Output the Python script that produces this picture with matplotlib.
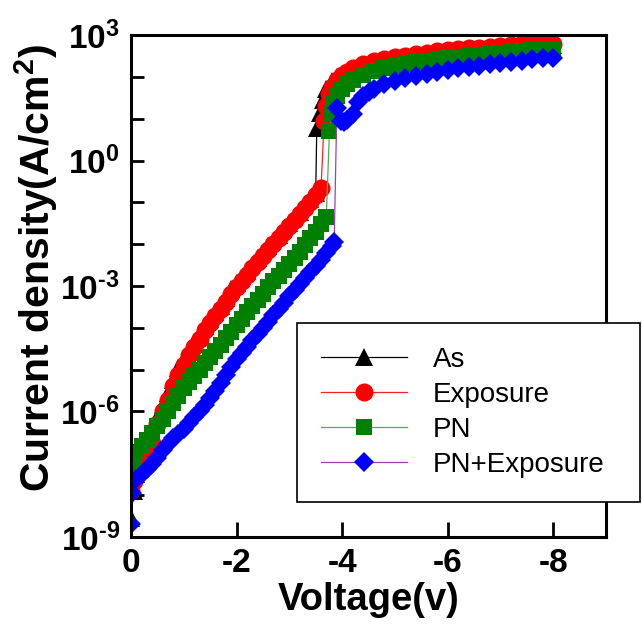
import numpy as np
import matplotlib
matplotlib.use("Agg")
import matplotlib.pyplot as plt
from matplotlib.ticker import FixedLocator, FixedFormatter

plt.rcParams['font.family'] = ['Liberation Sans', 'DejaVu Sans']
plt.rcParams['mathtext.fontset'] = 'custom'
plt.rcParams['mathtext.rm'] = 'Liberation Sans'
plt.rcParams['mathtext.bf'] = 'Liberation Sans:bold'

# As (log10 of current density)
as_v = [0, -0.05, -0.1, -0.2, -0.3, -0.4, -0.5, -0.6, -0.7, -0.8, -0.9, -1.0, -1.1, -1.2, -1.3,
        -1.4, -1.5, -1.6, -1.7, -1.8, -1.9, -2.0, -2.2, -2.4, -2.6, -2.8, -3.0, -3.2, -3.4, -3.5,
        -3.52, -3.58, -3.63, -3.7, -3.8, -3.9, -4.0, -4.2, -4.4, -4.6, -4.8, -5.0, -5.2, -5.4,
        -5.6, -5.8, -6.0, -6.2, -6.4, -6.6, -6.8, -7.0, -7.2, -7.4, -7.6, -7.8, -8.0]
as_logj = [-8.55, -7.9, -7.5, -7.15, -6.9, -6.55, -6.15, -5.85, -5.55, -5.25, -4.97, -4.75, -4.55,
           -4.35, -4.15, -3.95, -3.78, -3.62, -3.47, -3.28, -3.08, -2.93, -2.63, -2.33, -2.05,
           -1.78, -1.5, -1.22, -0.93, -0.78,
           0.78, 1.13, 1.44, 1.7, 1.9, 2.0, 2.08, 2.18, 2.25, 2.32, 2.38, 2.42, 2.46, 2.5, 2.53,
           2.56, 2.59, 2.61, 2.64, 2.66, 2.68, 2.7, 2.72, 2.74, 2.75, 2.76, 2.77]

# Exposure
exp_v = [0, -0.05, -0.1, -0.2, -0.3, -0.4, -0.5, -0.6, -0.7, -0.8, -0.9, -1.0, -1.1, -1.2, -1.3,
         -1.4, -1.5, -1.6, -1.7, -1.8, -1.9, -2.0, -2.1, -2.2, -2.3, -2.4, -2.5, -2.6, -2.7, -2.8,
         -2.9, -3.0, -3.1, -3.2, -3.3, -3.4, -3.5, -3.6,
         -3.66, -3.7, -3.75, -3.8, -3.9, -4.0, -4.1, -4.2, -4.4, -4.6, -4.8, -5.0, -5.2, -5.4,
         -5.6, -5.8, -6.0, -6.2, -6.4, -6.6, -6.8, -7.0, -7.2, -7.4, -7.6, -7.8, -8.0]
exp_logj = [-7.9, -7.65, -7.45, -7.25, -7.1, -6.75, -6.3, -6.0, -5.72, -5.4, -5.12, -4.88, -4.66,
            -4.46, -4.26, -4.06, -3.88, -3.72, -3.56, -3.38, -3.2, -3.02, -2.88, -2.73, -2.58,
            -2.43, -2.28, -2.13, -1.99, -1.85, -1.71, -1.57, -1.42, -1.28, -1.13, -0.98, -0.83,
            -0.66,
            0.94, 1.3, 1.58, 1.75, 1.92, 2.04, 2.12, 2.2, 2.3, 2.37, 2.43, 2.47, 2.51, 2.55, 2.58,
            2.61, 2.63, 2.66, 2.68, 2.7, 2.72, 2.74, 2.76, 2.78, 2.8, 2.81, 2.79]

# PN
pn_v = [0, -0.05, -0.1, -0.2, -0.3, -0.4, -0.5, -0.6, -0.7, -0.8, -0.9, -1.0, -1.1, -1.2, -1.3,
        -1.4, -1.5, -1.6, -1.7, -1.8, -1.9, -2.0, -2.1, -2.2, -2.3, -2.4, -2.5, -2.6, -2.7, -2.8,
        -2.9, -3.0, -3.1, -3.2, -3.3, -3.4, -3.5, -3.6, -3.7,
        -3.76, -3.8, -3.85, -3.9, -4.0, -4.1, -4.2, -4.4, -4.6, -4.8, -5.0, -5.2, -5.4, -5.6,
        -5.8, -6.0, -6.2, -6.4, -6.6, -6.8, -7.0, -7.2, -7.4, -7.6, -7.8, -8.0]
pn_logj = [-7.35, -7.1, -6.98, -6.82, -6.67, -6.52, -6.35, -6.17, -5.98, -5.8, -5.62, -5.45, -5.3,
           -5.15, -5.0, -4.85, -4.7, -4.55, -4.4, -4.25, -4.1, -3.93, -3.78, -3.63, -3.48, -3.33,
           -3.18, -3.03, -2.89, -2.75, -2.61, -2.47, -2.33, -2.18, -2.02, -1.86, -1.7, -1.52, -1.35,
           0.7, 1.1, 1.38, 1.55, 1.7, 1.82, 1.92, 2.05, 2.13, 2.2, 2.26, 2.31, 2.35, 2.39, 2.42,
           2.45, 2.48, 2.51, 2.53, 2.56, 2.58, 2.6, 2.62, 2.64, 2.65, 2.63]

# PN+Exposure
pne_v = [0, -0.02, -0.1, -0.2, -0.3, -0.4, -0.5, -0.6, -0.7, -0.8, -0.9, -1.0, -1.1, -1.2, -1.3,
         -1.4, -1.5, -1.6, -1.7, -1.8, -1.9, -2.0, -2.1, -2.2, -2.3, -2.4, -2.5, -2.6, -2.7, -2.8,
         -2.9, -3.0, -3.1, -3.2, -3.3, -3.4, -3.5, -3.6, -3.7, -3.8, -3.85,
         -3.9, -3.97, -4.03, -4.1, -4.2, -4.3, -4.4, -4.5, -4.6, -4.8, -5.0, -5.2, -5.4, -5.6,
         -5.8, -6.0, -6.2, -6.4, -6.6, -6.8, -7.0, -7.2, -7.4, -7.6, -7.8, -8.0]
pne_logj = [-8.7, -7.95, -7.62, -7.5, -7.38, -7.25, -7.1, -6.93, -6.77, -6.64, -6.53, -6.42, -6.28,
            -6.14, -6.0, -5.85, -5.68, -5.52, -5.33, -5.12, -4.93, -4.75, -4.6, -4.45, -4.3,
            -4.15, -4.0, -3.85, -3.7, -3.55, -3.4, -3.25, -3.1, -2.95, -2.8, -2.66, -2.52, -2.38,
            -2.22, -2.05, -1.95,
            1.25, 0.95, 0.92, 0.98, 1.1, 1.4, 1.55, 1.64, 1.72, 1.82, 1.9, 1.97, 2.03, 2.08, 2.12,
            2.16, 2.2, 2.23, 2.27, 2.3, 2.33, 2.36, 2.39, 2.42, 2.44, 2.45]

series = [
	("As", as_v, as_logj, 'black', 'black', '^', 13),
	("Exposure", exp_v, exp_logj, '#ff2020', '#ff0000', 'o', 13),
	("PN", pn_v, pn_logj, '#55aa55', '#008000', 's', 11.5),
	("PN+Exposure", pne_v, pne_logj, '#a040b0', '#0000ff', 'D', 10.5),
]

fig = plt.figure(figsize=(6.42, 6.31), dpi=100)
ax = fig.add_axes([0.204, 0.149, 0.74, 0.7955])

for name, v, logj, lc, mc, mk, ms in series:
	ax.plot(v, 10 ** np.array(logj), color=lc, lw=0.9, marker=mk, ms=ms,
			mfc=mc, mec=mc, mew=0, label=name)

ax.set_yscale('log')
ax.set_ylim(1e-9, 1e3)
ax.set_xlim(0, -9)

# ticks, exponent written with a plain hyphen like the original
dec = [10.0 ** k for k in range(-9, 4)]
ylabs = []
for k in range(-9, 4):
	if k % 3 == 0:
		ylabs.append(r'$\mathbf{10^{%s}}$' % str(k).replace('-', '\u2010'))
	else:
		ylabs.append('')
ax.yaxis.set_major_locator(FixedLocator(dec))
ax.yaxis.set_major_formatter(FixedFormatter(ylabs))
ax.yaxis.set_minor_locator(FixedLocator([]))
ax.set_xticks([0, -2, -4, -6, -8])
ax.set_xticklabels(['0', '-2', '-4', '-6', '-8'])
ax.tick_params(axis='both', direction='in', length=9, width=2, labelsize=24, pad=8)
ax.tick_params(axis='x', length=11)
for lab in ax.get_xticklabels():
	lab.set_fontweight('bold')

for sp in ax.spines.values():
	sp.set_linewidth(2.2)

ax.set_xlabel('Voltage(v)', fontsize=27.5, fontweight='bold', labelpad=2)
ax.set_ylabel(r'Current density(A/cm$^\mathbf{2}$)', fontsize=29.5, fontweight='bold')
ax.yaxis.set_label_coords(-0.15, 0.536)

leg = ax.legend(loc='upper left', bbox_to_anchor=(297 / 642, 1 - 503 / 631, 343 / 642, 180 / 631),
				bbox_transform=fig.transFigure, mode='expand', borderaxespad=0, fontsize=20,
				handlelength=3.1, handletextpad=0.95, borderpad=0.85, labelspacing=0.33,
				fancybox=False, framealpha=1)
leg.get_frame().set_edgecolor('black')
leg.get_frame().set_linewidth(1.2)

fig.savefig('out.png', dpi=100)
